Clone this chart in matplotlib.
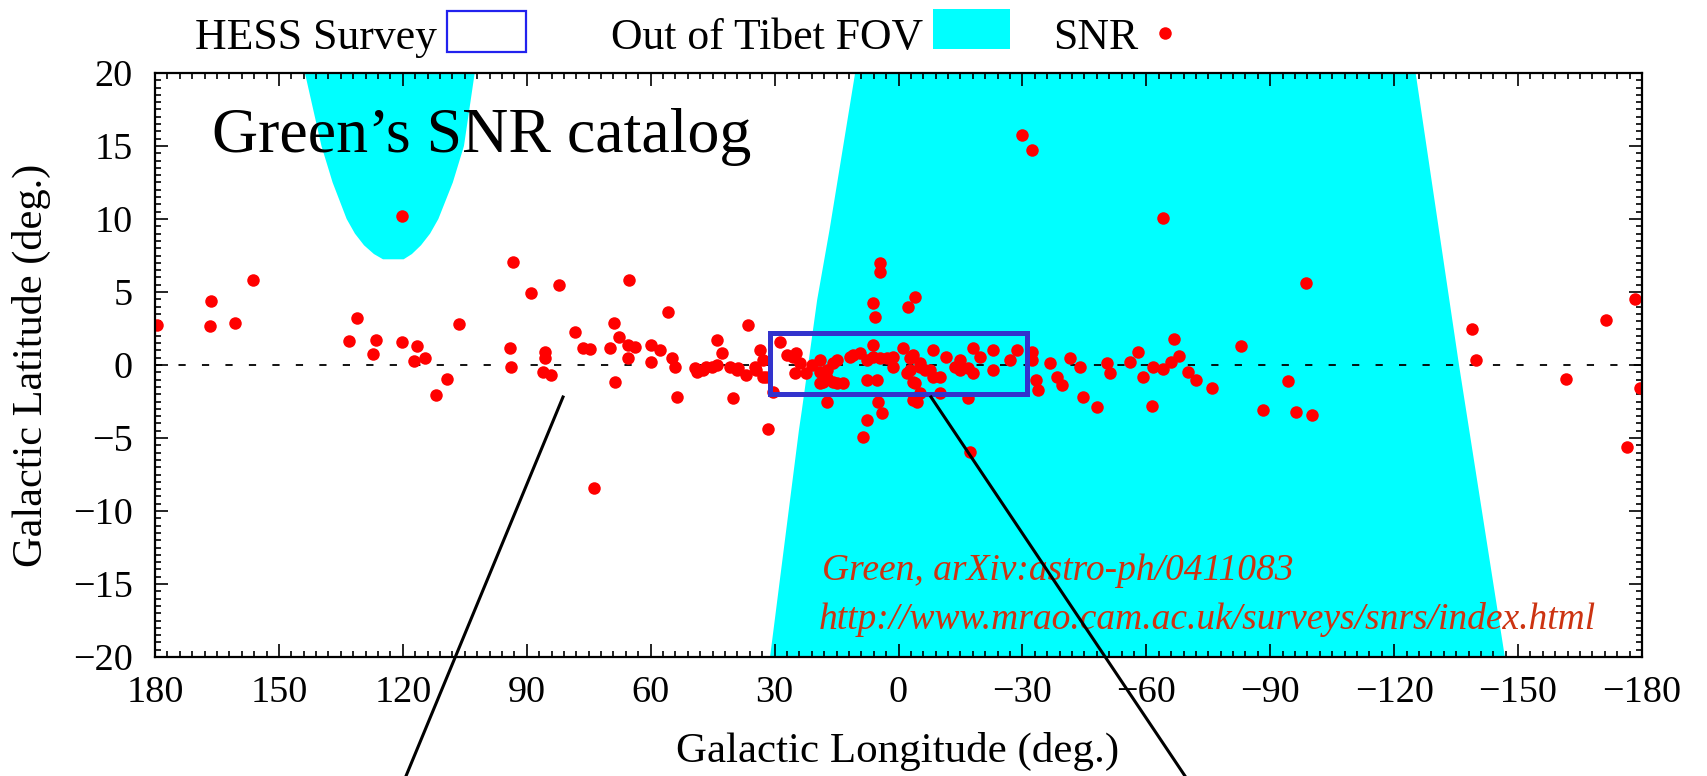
import matplotlib
matplotlib.use('Agg')
import matplotlib.pyplot as plt
from matplotlib.patches import Rectangle
from matplotlib.lines import Line2D
from matplotlib.ticker import MultipleLocator

plt.rcParams['font.family'] = ['Liberation Serif', 'DejaVu Serif']

# SNR positions (galactic longitude / latitude, deg)
snr_lon = [179.4, 166.4, 166.6, 160.7, 156.3, 133.0, 131.0, 126.6, 127.2, 120.1,
           120.1, 116.6, 117.3, 114.6, 109.3, 112.0, 106.5, 93.4, 94.1, 93.9,
           89.0, 82.2, 85.5, 85.7, 86.0, 84.2, 78.3, 76.3, 74.7, 73.8,
           69.9, 68.9, 67.6, 65.4, 63.8, 65.4, 68.6, 65.2, 59.8, 57.8,
           59.8, 55.7, 54.9, 54.1, 53.7, 48.9, 47.3, 45.2, 44.0, 42.8,
           40.8, 39.2, 40.0, 36.4, 36.8, 34.4, 33.5, 32.7, 32.0, 31.5,
           28.7, 30.3, 25.5, 23.9, 22.3, 19.0, 17.4, 15.8, 18.2, 15.0,
           13.4, 17.4, 7.7, 4.1, 4.9, 4.5, 4.5, 6.1, 5.7, -4.0,
           -2.4, 6.1, 5.3, 11.8, 9.4, 6.1, 2.9, -1.1, -3.6, -8.4,
           -11.6, -14.9, -18.1, 1.3, -2.8, -5.2, -7.6, -10.0, -14.9, -18.1,
           -3.6, -3.6, -5.2, -10.0, -16.9, 7.7, 49.3, 46.5, 44.0, 38.8,
           34.8, 32.7, 27.1, 24.7, 25.1, 21.0, 19.0, 17.4, 15.8, 19.0,
           15.0, 10.9, 7.7, 4.5, 1.3, -2.8, -5.2, -13.7, -16.9, -19.7,
           -22.9, -22.9, -27.0, -28.6, -32.2, -32.2, -36.6, -41.5, -43.9, -50.4,
           -51.2, -56.0, -58.0, -61.7, -59.2, -2.0, -4.0, -8.4, -6.4, -4.4,
           -33.4, -33.8, -38.3, -39.5, -44.7, -48.0, -61.3, -17.3, -30.0, -32.4,
           -64.0, -66.7, -64.0, -66.0, -68.0, -70.0, -72.0, -75.9, -83.0, -88.3,
           -94.3, -96.2, -98.6, -100.2, -138.9, -139.7, -161.5, -171.3, -176.3, -178.4,
           -179.6, 8.5]
snr_lat = [2.74, 4.4, 2.67, 2.9, 5.8, 1.62, 3.2, 1.71, 0.73, 10.2,
           1.58, 1.28, 0.27, 0.46, -0.94, -2.03, 2.81, 7.03, 1.19, -0.11,
           4.96, 5.47, 0.9, 0.5, -0.46, -0.68, 2.28, 1.14, 1.07, -8.4,
           1.14, 2.9, 1.94, 1.37, 1.26, 0.46, -1.14, 5.82, 1.37, 1.03,
           0.23, 3.65, 0.46, -0.11, -2.17, -0.46, -0.34, -0.11, 1.71, 0.8,
           -0.11, -0.34, -2.28, 2.74, -0.68, -0.34, 1.03, 0.34, -0.8, -4.4,
           1.6, -1.83, 0.57, 0.11, -0.57, 0.34, -0.34, 0.11, -1.14, -1.26,
           -1.26, -2.51, -3.77, -3.31, -2.51, 6.96, 6.4, 4.22, 3.31, 4.68,
           3.99, 1.37, -1.03, 0.57, 0.8, 0.57, 0.46, 1.14, 0.68, 1.03,
           0.57, 0.34, 1.14, -0.11, -0.34, -0.11, -0.34, -0.8, -0.34, -0.57,
           -1.14, -2.4, -1.94, -1.94, -2.28, -1.03, -0.23, -0.11, 0.0, -0.23,
           -0.11, -0.8, 0.68, 0.8, -0.57, 0.0, -0.46, -0.91, -1.14, -1.26,
           0.34, 0.68, 0.34, 0.46, 0.57, 0.46, 0.11, -0.11, -0.23, 0.57,
           1.03, -0.34, 0.34, 1.03, 0.91, 0.34, 0.11, 0.46, -0.11, 0.11,
           -0.57, 0.23, 0.91, -0.11, -0.8, -0.57, -1.26, -0.8, -0.34, -2.51,
           -1.03, -1.71, -0.8, -1.37, -2.17, -2.85, -2.8, -5.93, 15.75, 14.7,
           10.1, 1.8, -0.3, 0.2, 0.6, -0.5, -1.0, -1.6, 1.3, -3.1,
           -1.1, -3.2, 5.6, -3.4, 2.46, 0.37, -0.97, 3.1, -5.6, 4.5,
           -1.6, -4.9]

# edges of the area outside the Tibet field of view
fov_east_lat = [20, 9.25, 4.45, -3.1, -4.45, -20]
fov_east_lon = [10.5, 16.7, 19.7, 23.4, 24.1, 31.1]
fov_west_lat = [20, 0, -20]
fov_west_lon = [-125.2, -135.7, -146.8]

# cap near the north celestial pole
cap_lat = [20, 15, 12.5, 10, 9, 8.2, 7.6, 7.24]
cap_left_lon = [143.7, 139.7, 137.0, 133.6, 131.6, 129.4, 127.0, 124.8]
cap_right_lon = [102.6, 105.2, 107.9, 111.4, 113.4, 115.6, 117.8, 119.8]

hess_lon = (31, -31)
hess_lat = (-2.0, 2.2)

W, H = 1707, 776


def fx(x):
    return x / W


def fy(y):
    return 1 - y / H


fig = plt.figure(figsize=(W / 100, H / 100), dpi=100)
ax = fig.add_axes([fx(155), fy(657), (1642 - 155) / W, (657 - 73) / H])

cyan = '#00FFFF'
ax.fill(fov_east_lon + fov_west_lon[::-1], fov_east_lat + fov_west_lat[::-1],
        color=cyan, lw=0, zorder=1)
ax.fill(cap_left_lon + cap_right_lon[::-1], cap_lat + cap_lat[::-1],
        color=cyan, lw=0, zorder=1)

ax.axhline(0, color='black', lw=1.3, ls=(0, (4, 9)), zorder=2)
ax.plot(snr_lon, snr_lat, 'o', color='#FF0000', ms=9, mew=0, zorder=3)
ax.add_patch(Rectangle((hess_lon[0], hess_lat[0]), hess_lon[1] - hess_lon[0],
                       hess_lat[1] - hess_lat[0], fill=False,
                       edgecolor='#3333CC', lw=3.6, zorder=4))

ax.set_xlim(180, -180)
ax.set_ylim(-20, 20)
ax.xaxis.set_major_locator(MultipleLocator(30))
ax.xaxis.set_minor_locator(MultipleLocator(3))
ax.yaxis.set_major_locator(MultipleLocator(5))
ax.yaxis.set_minor_locator(MultipleLocator(0.5))
ax.tick_params(which='both', direction='in', top=True, right=True,
               labelsize=27.5, width=1.2)
ax.tick_params(which='major', length=9.5)
ax.tick_params(which='minor', length=4.5)
ax.tick_params(axis='x', pad=13)
ax.tick_params(axis='y', pad=16)
for s in ax.spines.values():
    s.set_linewidth(1.6)
    s.set_zorder(5)

fig.text(fx(898), fy(751), 'Galactic Longitude (deg.)', fontsize=31,
         ha='center', va='center')
fig.text(fx(31), fy(365), 'Galactic Latitude (deg.)', fontsize=30.5,
         ha='center', va='center', rotation=90)

fig.text(fx(212), fy(152), 'Green\u2019s SNR catalog', fontsize=46,
         ha='left', va='baseline')
red_txt = '#CC3311'
fig.text(fx(822), fy(580), 'Green, arXiv:astro-ph/0411083', fontsize=27,
         style='italic', color=red_txt, ha='left', va='baseline')
fig.text(fx(819), fy(629), 'http://www.mrao.cam.ac.uk/surveys/snrs/index.html',
         fontsize=27, style='italic', color=red_txt, ha='left', va='baseline')

# legend row on top
fig.text(fx(437), fy(38), 'HESS Survey', fontsize=31.5, ha='right', va='center')
fig.add_artist(Rectangle((fx(447), fy(52)), (526 - 447) / W, (52 - 11) / H,
                         fill=False, edgecolor='#2222EE', lw=1.6,
                         transform=fig.transFigure))
fig.text(fx(923), fy(38), 'Out of Tibet FOV', fontsize=31.5, ha='right', va='center')
fig.add_artist(Rectangle((fx(933), fy(49)), (1010 - 933) / W, (49 - 9) / H,
                         color=cyan, lw=0, transform=fig.transFigure))
fig.text(fx(1138), fy(38), 'SNR', fontsize=31.5, ha='right', va='center')
fig.add_artist(Line2D([fx(1165)], [fy(33)], marker='o', color='#FF0000',
                      ms=9, mew=0, transform=fig.transFigure))

# pointer lines running off the bottom
fig.add_artist(Line2D([fx(563), fx(406)], [fy(397), fy(776)], color='black',
                      lw=2.2, transform=fig.transFigure, zorder=10))
fig.add_artist(Line2D([fx(931), fx(1185)], [fy(397), fy(776)], color='black',
                      lw=2.2, transform=fig.transFigure, zorder=10))

fig.savefig('out.png', dpi=100)
